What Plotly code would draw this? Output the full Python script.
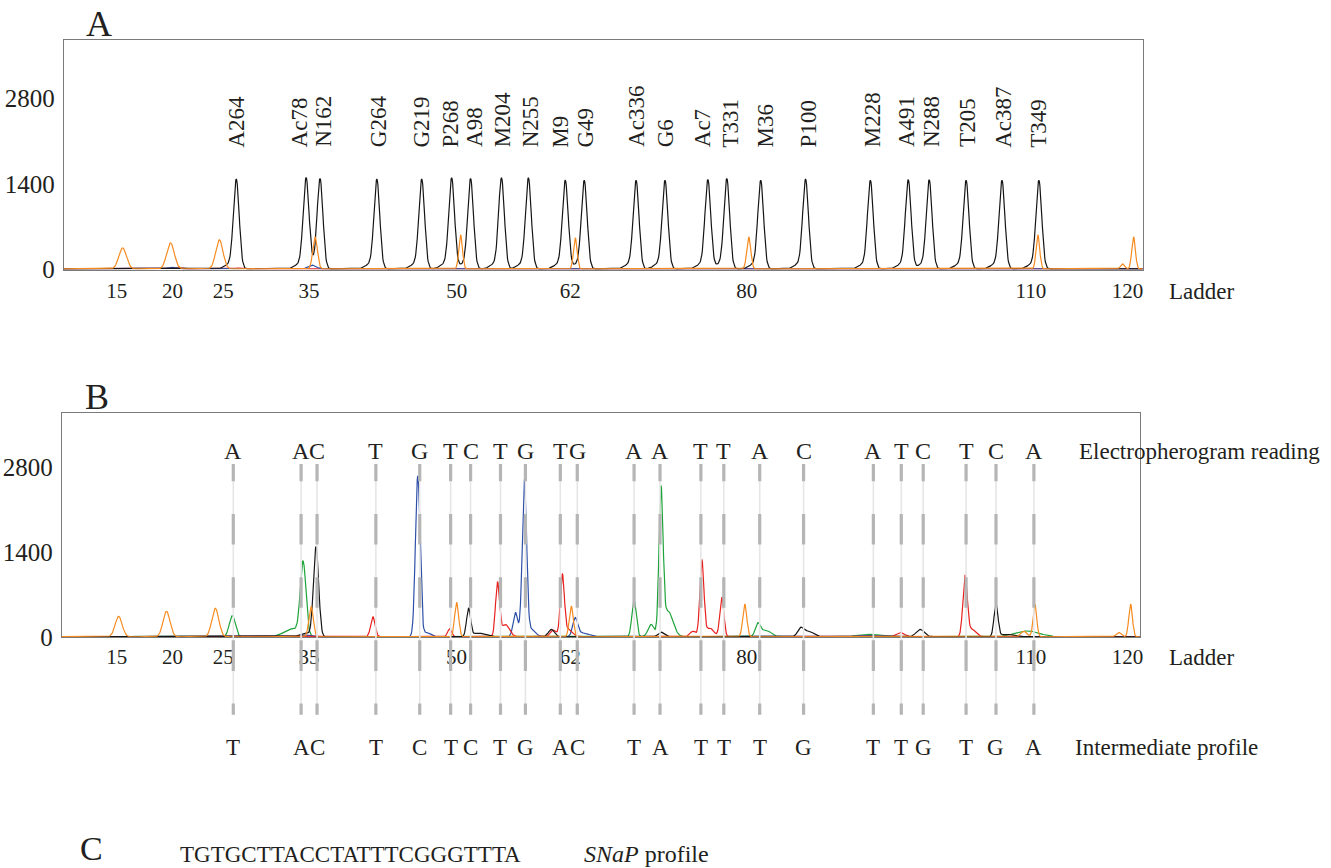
import numpy as np
import plotly.graph_objects as go

REF_W, REF_H = 1331, 868          # reference picture size (positions below are read in it)
W, H = 1331, 884                  # figure size in CSS px

# ---------------- data ----------------
ladder_tick_pos = [117, 173, 224, 310, 458, 572, 749, 1034, 1131]
ladder_tick_text = ["15", "20", "25", "35", "50", "62", "80", "110", "120"]
y_tick_vals = [0, 1400, 2800]

# Panel A: marker peaks (black) and their names
a_names = ["A264", "Ac78", "N162", "G264", "G219", "P268", "A98", "M204", "N255", "M9", "G49",
           "Ac336", "G6", "Ac7", "T331", "M36", "P100", "M228", "A491", "N288", "T205", "Ac387", "T349"]
a_black_pos = [237, 307, 321, 378, 423, 453, 472, 503, 530, 567, 586, 638, 667, 710, 729, 763,
               808, 873, 911, 932, 969, 1005, 1042]
a_black_height = [1450, 1450, 1460, 1450, 1450, 1470, 1460, 1470, 1470, 1430, 1430, 1430, 1430,
                  1440, 1460, 1430, 1450, 1430, 1440, 1440, 1430, 1430, 1430]
a_label_pos = [237, 300, 325, 379, 423, 452, 476, 504, 532, 562, 587, 639, 667, 704, 733, 768,
               811, 875, 910, 935, 971, 1007, 1042]

# Panel A: size-standard peaks (orange) and small background peaks
a_orange_pos = [123, 171, 220, 316, 462, 577, 751, 1041, 1126, 1137]
a_orange_height = [344, 425, 475, 524, 557, 508, 524, 557, 80, 524]
a_orange_width = [3.8, 3.8, 3.6, 2.3, 1.8, 1.8, 2.0, 1.8, 2.0, 1.8]
a_blue_pos = [172, 313]
a_blue_height = [25, 60]
a_red_pos = [178, 240]
a_red_height = [20, 15]

# Panel B: sample peaks per dye
b_orange_pos = [119, 167, 216, 312, 458, 573, 747, 1027, 1038, 1122, 1134]
b_orange_height = [335, 417, 467, 500, 565, 505, 538, 90, 538, 70, 538]
b_orange_width = [3.5, 3.5, 3.5, 2.2, 2.0, 2.0, 2.0, 3.0, 1.8, 2.5, 1.8]

b_green_pos = [233, 293, 304, 636, 653, 663, 670, 760, 768, 870, 1030]
b_green_height = [346, 130, 1200, 593, 200, 2330, 420, 200, 110, 40, 95]
b_green_width = [3.0, 8.0, 2.8, 2.2, 3.0, 2.0, 5.0, 2.5, 5.0, 10.0, 12.0]

b_black_pos = [306, 317, 470, 480, 553, 663, 803, 811, 923, 999, 1010]
b_black_height = [60, 1480, 460, 60, 120, 75, 130, 90, 120, 530, 40]
b_black_width = [5.0, 2.6, 2.0, 6.0, 3.0, 3.0, 3.0, 5.0, 4.0, 2.0, 6.0]

b_blue_pos = [305, 419, 428, 517, 526, 533, 577, 585, 870]
b_blue_height = [30, 2640, 70, 400, 2560, 120, 290, 60, 20]
b_blue_width = [5.0, 2.3, 4.0, 2.3, 2.2, 4.0, 2.5, 6.0, 10.0]

b_red_pos = [374, 451, 499, 507, 555, 564, 570, 695, 704, 712, 724, 903, 968, 975]
b_red_height = [330, 130, 880, 200, 110, 1000, 120, 90, 1250, 140, 650, 70, 990, 120]
b_red_width = [2.2, 2.0, 2.0, 4.0, 3.0, 2.0, 4.0, 3.0, 2.0, 4.0, 2.0, 4.0, 2.2, 4.0]

# Panel B: allele calls
b_call_pos = [234, 302, 318, 377, 421, 452, 472, 502, 527, 562, 579, 636, 662, 703, 726, 762,
              806, 876, 904, 926, 969, 999, 1037]
b_reading = ["A", "A", "C", "T", "G", "T", "C", "T", "G", "T", "G", "A", "A", "T", "T", "A",
             "C", "A", "T", "C", "T", "C", "A"]
b_intermediate = ["T", "A", "C", "T", "C", "T", "C", "T", "G", "A", "C", "T", "A", "T", "T", "T",
                  "G", "T", "T", "G", "T", "G", "A"]
snap_profile = "TGTGCTTACCTATTTCGGGTTTA"

# ---------------- styling ----------------
COL = dict(black="#151515", orange="#F68B1F", green="#1DA33A", blue="#2E4FA8", red="#E8201E")
FONT = "Liberation Serif, Times New Roman, serif"
TXT = "#231f20"
SY = H / REF_H

x = np.arange(60, 1148.01, 0.5)


def curve(pos, height, width, base=12.0, tail=False):
    y = np.full_like(x, base)
    for p, h, w in zip(pos, height, width):
        y += h * np.exp(-0.5 * ((x - p) / w) ** 2)
        if tail:
            y += 0.05 * h * np.exp(-0.5 * ((x - p + 7.5) / 4.5) ** 2)
    return y


fig = go.Figure()


def add(ycurve, color, xa, ya):
    fig.add_trace(go.Scatter(x=x, y=ycurve, mode="lines", line=dict(color=color, width=1.2),
                             xaxis=xa, yaxis=ya, showlegend=False, hoverinfo="skip"))


# Panel A
add(curve(a_red_pos, a_red_height, [4] * len(a_red_pos)), COL["red"], "x", "y")
add(curve(a_blue_pos, a_blue_height, [4] * len(a_blue_pos)), COL["blue"], "x", "y")
add(curve(a_black_pos, a_black_height, [2.9] * len(a_black_pos), tail=True), COL["black"], "x", "y")
add(curve(a_orange_pos, a_orange_height, a_orange_width), COL["orange"], "x", "y")

# Panel B
add(curve(b_green_pos, b_green_height, b_green_width), COL["green"], "x2", "y2")
add(curve(b_blue_pos, b_blue_height, b_blue_width), COL["blue"], "x2", "y2")
add(curve(b_red_pos, b_red_height, b_red_width), COL["red"], "x2", "y2")
add(curve(b_black_pos, b_black_height, b_black_width), COL["black"], "x2", "y2")
add(curve(b_orange_pos, b_orange_height, b_orange_width), COL["orange"], "x2", "y2")


def py(p):  # reference pixel row -> paper fraction
    return 1 - p / REF_H


def pxp(p):  # reference pixel column -> paper fraction
    return p / REF_W


axis_common = dict(showline=True, mirror=True, linecolor="#7a7a7a", linewidth=1.2,
                   showgrid=False, zeroline=False, ticks="", fixedrange=True)

fig.update_layout(
    width=W, height=H, autosize=False,
    margin=dict(l=0, r=0, t=0, b=0),
    paper_bgcolor="white", plot_bgcolor="white",
    xaxis=dict(domain=[pxp(64), pxp(1146)], range=[64, 1146], anchor="y",
               tickvals=ladder_tick_pos, ticktext=ladder_tick_text,
               tickfont=dict(family=FONT, size=21, color=TXT), ticklabelstandoff=2, **axis_common),
    yaxis=dict(domain=[py(269), py(40)], range=[0, 3750], anchor="x",
               tickvals=y_tick_vals, tickfont=dict(family=FONT, size=25, color=TXT),
               ticklabelstandoff=3, **axis_common),
    xaxis2=dict(domain=[pxp(62), pxp(1143)], range=[62, 1143], anchor="y2",
                tickvals=ladder_tick_pos, ticktext=ladder_tick_text,
                tickfont=dict(family=FONT, size=21, color=TXT), ticklabelstandoff=0, **axis_common),
    yaxis2=dict(domain=[py(636), py(412)], range=[0, 3690], anchor="x2",
                tickvals=y_tick_vals, tickfont=dict(family=FONT, size=25, color=TXT),
                ticklabelstandoff=3, **axis_common),
)

ann = []


def text(xv, yv, s, size=23, xref="paper", xanchor="center", angle=0, yanchor="middle"):
    ann.append(dict(x=xv, y=yv, xref=xref, yref="paper", text=s, showarrow=False,
                    xanchor=xanchor, yanchor=yanchor, textangle=angle, borderpad=0,
                    font=dict(family=FONT, size=size, color=TXT)))


# Panel A names (rotated)
for name, lx in zip(a_names, a_label_pos):
    text(lx, py(148), name, size=23, xref="x", angle=-90, yanchor="bottom")
text(pxp(1172), py(291), "Ladder", xanchor="left")

# Panel B calls and dashed guide lines
dash = ",".join(f"{v * SY:.1f}px" for v in [17, 32, 30, 32, 30, 32, 30, 32, 15])
shapes = []
for cx, r, m in zip(b_call_pos, b_reading, b_intermediate):
    text(cx, py(450), r, size=24, xref="x2")
    text(cx, py(746), m, size=23, xref="x2")
    shapes.append(dict(type="line", xref="x2", yref="paper", x0=cx, x1=cx, y0=py(463), y1=py(713),
                       line=dict(color="#e6e6e6", width=1.6), layer="above"))
    shapes.append(dict(type="line", xref="x2", yref="paper", x0=cx, x1=cx, y0=py(463), y1=py(713),
                       line=dict(color="#b5b5b5", width=3.2, dash=dash), layer="above"))
text(pxp(1081), py(450), "Electropherogram reading", xanchor="left")
text(pxp(1077), py(746), "Intermediate profile", xanchor="left")
text(pxp(1172), py(656), "Ladder", xanchor="left")

# Panel letters and SNaP profile
text(pxp(99), py(24), "A", size=36)
text(pxp(97), py(396), "B", size=36)
text(pxp(92), py(866), "C", size=34, yanchor="bottom")
text(pxp(180), py(866), snap_profile, xanchor="left", yanchor="bottom")
text(pxp(585), py(866), "<i>SNaP</i> profile", size=24, xanchor="left", yanchor="bottom")

fig.update_layout(annotations=ann, shapes=shapes)
fig.write_html("out.html", config={"displayModeBar": False},
               post_script="document.body.style.margin='0';document.body.style.overflow='hidden';")
